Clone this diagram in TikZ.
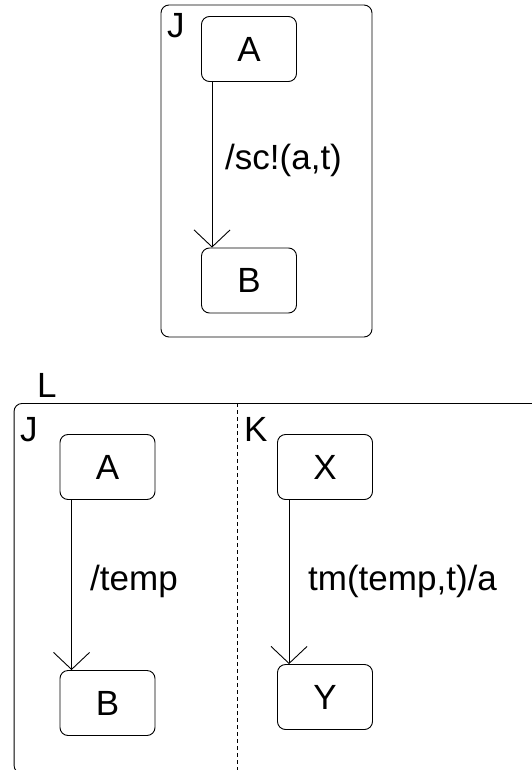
\documentclass[tikz,border=0pt]{standalone}
\usepackage{fontspec}
\setmainfont{Liberation Sans}
\usetikzlibrary{arrows.meta,calc}
\begin{document}
\begin{tikzpicture}[x=1pt,y=-1pt,
  every node/.style={font=\fontsize{35}{42}\selectfont, inner sep=0pt},
  state/.style={draw, line width=0.9pt, rounded corners=8pt, minimum width=95pt, minimum height=65pt},
  region/.style={draw, line width=0.9pt, rounded corners=8pt},
  lbl/.style={anchor=base west},
  trans/.style={line width=0.9pt, -{Straight Barb[length=17pt,width=36pt,line width=0.9pt]}}
]
\useasboundingbox (0,0) rectangle (532,770);
\clip (0,0) rectangle (532,770);
% top diagram
\node[region, minimum width=211pt, minimum height=332pt] (Jtop) at (266.5,171) {};
\node[lbl] (Jtoplbl) at (167,38) {J};
\node[state] (A1) at (249,49) {A};
\node[state] (B1) at (249,280.5) {B};
\draw[trans] ($(A1.south west)+(11,0)$) coordinate (a1s) -- (a1s |- B1.north) coordinate (b1n);
\node[lbl] (t1) at (225,169) {/sc!(a,t)};
% bottom diagram
\node[lbl] (Llbl) at (37,397) {L};
\node[region, minimum width=532pt, minimum height=370pt, anchor=north west] (L) at (13.6,403) {};
\coordinate (dtop) at (237,403);
\coordinate (dbot) at (237,775);
\draw[line width=0.6pt, dash pattern=on 4pt off 3pt] (dtop) -- (dbot);
\node[lbl] (Jlbl) at (20,441) {J};
\node[lbl] (Klbl) at (244,441) {K};
\node[state] (A2) at (107.5,467) {A};
\node[state] (B2) at (107.5,703) {B};
\node[state] (X) at (325,467) {X};
\node[state] (Y) at (325,697) {Y};
\draw[trans] ($(A2.south west)+(12,0)$) coordinate (a2s) -- (a2s |- B2.north) coordinate (b2n);
\draw[trans] ($(X.south west)+(12,0)$) coordinate (xs) -- (xs |- Y.north) coordinate (yn);
\node[lbl] (t2) at (90,590) {/temp};
\node[lbl] (t3) at (308,590) {tm(temp,t)/a};
\end{tikzpicture}
\end{document}
